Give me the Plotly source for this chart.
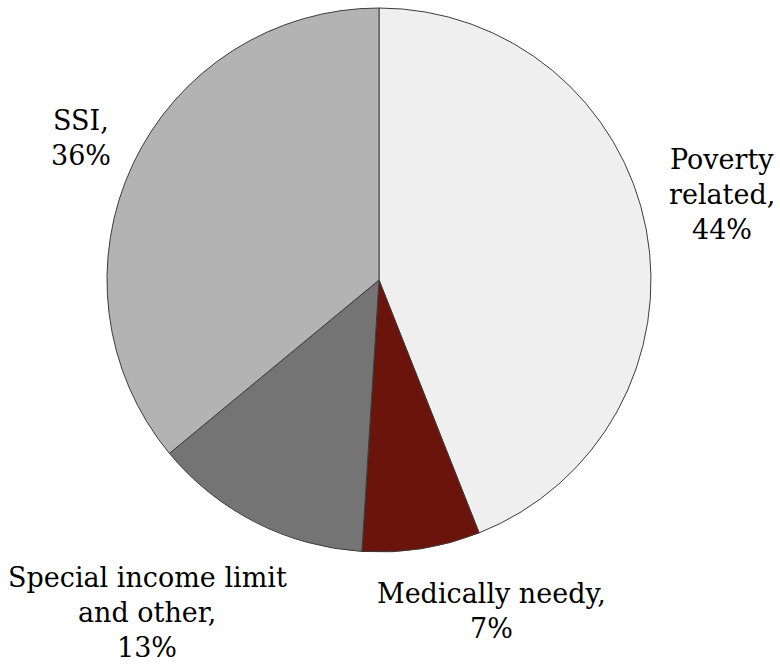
import plotly.graph_objects as go

categories = ["Poverty related", "Medically needy", "Special income limit and other", "SSI"]
values = [44, 7, 13, 36]
label_lines = [["Poverty", "related,", "44%"],
               ["Medically needy,", "7%"],
               ["Special income limit", "and other,", "13%"],
               ["SSI,", "36%"]]
colors = ["#efefef", "#6b140c", "#747474", "#b3b3b3"]

fig = go.Figure(go.Pie(
    labels=categories, values=values, sort=False, direction="clockwise", rotation=0,
    marker=dict(colors=colors, line=dict(color="#3c3c3c", width=1)),
    textinfo="none", hoverinfo="label+percent", showlegend=False,
    domain=dict(x=[107/780, 651/780], y=[1-552/664, 1-8/664]),
))

FS = 27
pos = [(722, 169), (491, 603), (147, 587), (81, 130)]
LS = 35
for lines, (px, by) in zip(label_lines, pos):
    for i, t in enumerate(lines):
        mid = by + i * LS - 0.346 * FS
        fig.add_annotation(x=px/780, y=1-mid/664, xref="paper", yref="paper", text=t,
                           showarrow=False, align="center", xanchor="center", yanchor="middle",
                           font=dict(family="DejaVu Serif", size=FS, color="black"))

fig.update_layout(width=780, height=664, margin=dict(l=0, r=0, t=0, b=0),
                  paper_bgcolor="white", plot_bgcolor="white")
fig.write_html("out.html")
